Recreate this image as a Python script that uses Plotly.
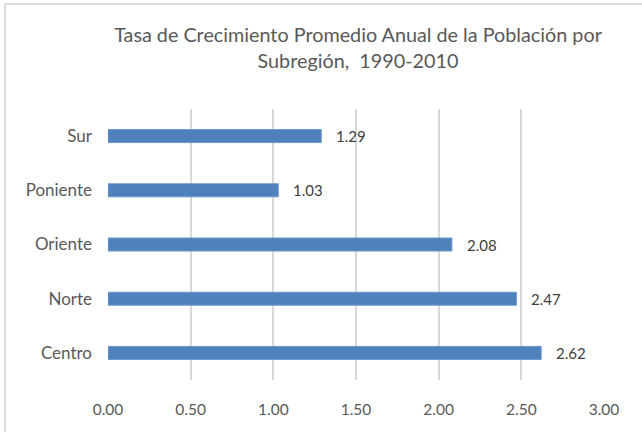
import plotly.graph_objects as go

categories = ["Centro", "Norte", "Oriente", "Poniente", "Sur"]
values = [2.62, 2.47, 2.08, 1.03, 1.29]
tick_vals = [0, 0.5, 1.0, 1.5, 2.0, 2.5, 3.0]
tick_text = ["0.00", "0.50", "1.00", "1.50", "2.00", "2.50", "3.00"]
title_text = "Tasa de Crecimiento Promedio Anual de la Población por<br>Subregión,  1990-2010"

W, H = 642, 432
PX0, PX1, PY0, PY1 = 108, 604, 109, 380
L, T = PX0, PY0
R = W - PX1
B = H - PY1
pw, ph = W - L - R, H - T - B

def px_x(p):
    return (p - L) / pw

def px_y(p):
    return (H - B - p) / ph

FONT = "Lato"
GRAY = "#595959"

fig = go.Figure()
fig.add_trace(go.Bar(
    x=values, y=categories, orientation="h",
    marker=dict(color="#4F81BD", line=dict(color="#6C97CD", width=1)),
    hoverinfo="skip",
))

for c, v in zip(categories, values):
    fig.add_annotation(x=v, y=c, text=f"{v:.2f}", showarrow=False,
                       xanchor="left", xshift=13,
                       font=dict(family=FONT, size=15, color="#404040"))

fig.add_shape(type="line", xref="paper", yref="paper",
              x0=px_x(5), x1=px_x(660), y0=px_y(4), y1=px_y(4),
              line=dict(color="#d0d0d0", width=1.5))
fig.add_shape(type="line", xref="paper", yref="paper",
              x0=px_x(5), x1=px_x(5), y0=px_y(4), y1=px_y(450),
              line=dict(color="#d0d0d0", width=1.5))

fig.update_layout(
    width=W, height=H,
    margin=dict(l=L, r=R, t=T, b=B, autoexpand=False),
    paper_bgcolor="white", plot_bgcolor="white",
    showlegend=False,
    bargap=0.76,
    title=dict(text=title_text, xref="paper", x=px_x(358), xanchor="center",
               y=1 - 42 / H, yanchor="middle",
               font=dict(family=FONT, size=19.8, color=GRAY)),
    xaxis=dict(range=[0, 3], tickvals=tick_vals, ticktext=tick_text,
               showgrid=True, gridcolor="#d9d9d9", gridwidth=1.5,
               zeroline=False, showline=False, ticks="",
               ticklabelstandoff=18,
               tickfont=dict(family=FONT, size=15.5, color=GRAY)),
    yaxis=dict(categoryorder="array", categoryarray=categories,
               showgrid=False, zeroline=False, showline=False,
               ticks="", ticklabelstandoff=15,
               tickfont=dict(family=FONT, size=17, color=GRAY)),
)

fig.write_html("out.html", config={"displayModeBar": False},
               post_script="document.body.style.margin='0';document.body.style.padding='0';")
